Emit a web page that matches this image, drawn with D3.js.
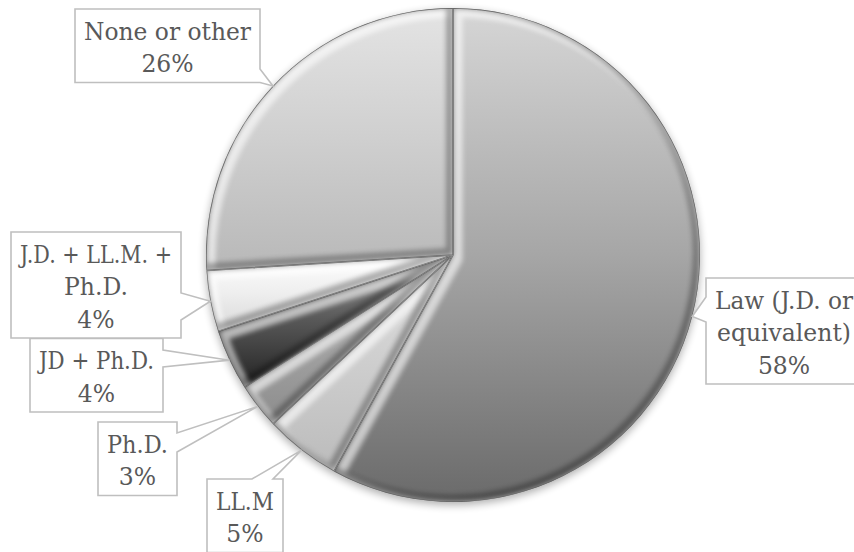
<!DOCTYPE html>
<html>
<head>
<meta charset="utf-8">
<script src="https://cdn.jsdelivr.net/npm/d3@7/dist/d3.min.js"></script>
<style>
  html, body { margin: 0; padding: 0; background: #ffffff; }
  svg { display: block; }
</style>
</head>
<body>
<svg id="chart" width="854" height="552"></svg>
<script>
// Highest degree held — share of respondents
const categories = ["Law (J.D. or equivalent)", "LL.M", "Ph.D.", "JD + Ph.D.", "J.D. + LL.M. + Ph.D.", "None or other"];
const shares = [58, 5, 3, 4, 4, 26];
const labelLines = [
  ["Law (J.D. or", "equivalent)"],
  ["LL.M"],
  ["Ph.D."],
  ["JD + Ph.D."],
  ["J.D. + LL.M. +", "Ph.D."],
  ["None or other"]
];

// Fill gradient (top, middle, bottom) for each slice
const sliceShades = [
  ["#d6d6d6", "#a6a6a6", "#6a6a6a"],
  ["#e0e0e0", "#cecece", "#bbbbbb"],
  ["#bababa", "#a4a4a4", "#8c8c8c"],
  ["#9a9a9a", "#575757", "#222222"],
  ["#ffffff", "#eeeeee", "#d9d9d9"],
  ["#e4e4e4", "#cfcfcf", "#b8b8b8"]
];

// Callout boxes: left/right edge, top edge, side the pointer leaves from, pointer base
const callouts = [
  { x0: 706, x1: 862, y0: 278,   side: "left",  a: 297, b: 322 },
  { x0: 207, x1: 283, y0: 479,   side: "top",   a: 252, b: 273 },
  { x0: 98,  x1: 177, y0: 422,   side: "right", a: 433, b: 452 },
  { x0: 30,  x1: 163, y0: 338.5, side: "right", a: 350, b: 367 },
  { x0: 11,  x1: 181, y0: 232,   side: "right", a: 293, b: 320 },
  { x0: 75,  x1: 260, y0: 9,     side: "right", a: 69,  b: 82.5 }
];

const cx = 453, cy = 255, R = 247;
const firstBaseline = 30.5, lineStep = 32.5, bottomPad = 10.5;

const svg = d3.select("#chart");
const defs = svg.append("defs");

// soft blur used for the bevel bands and the drop shadow
defs.append("filter").attr("id", "soft").attr("x", "-20%").attr("y", "-20%").attr("width", "140%").attr("height", "140%")
  .append("feGaussianBlur").attr("stdDeviation", 2.6);
defs.append("filter").attr("id", "shadowBlur").attr("x", "-20%").attr("y", "-20%").attr("width", "140%").attr("height", "140%")
  .append("feGaussianBlur").attr("stdDeviation", 4);

const pie = d3.pie().sort(null).value(d => d);
const arcs = pie(shares);
const arc = d3.arc().innerRadius(0).outerRadius(R);
const rimArc = d3.arc().innerRadius(R).outerRadius(R);

arcs.forEach((d, i) => {
  const g = defs.append("linearGradient").attr("id", "fill" + i)
    .attr("x1", 0).attr("y1", 0).attr("x2", 0).attr("y2", 1);
  sliceShades[i].forEach((c, k) => g.append("stop").attr("offset", k / 2).attr("stop-color", c));
  defs.append("clipPath").attr("id", "clip" + i)
    .append("path").attr("transform", `translate(${cx},${cy})`).attr("d", arc(d));
});

// drop shadow under the pie
svg.append("circle")
  .attr("cx", cx).attr("cy", cy + 3).attr("r", R)
  .attr("fill", "#000").attr("opacity", 0.32)
  .attr("filter", "url(#shadowBlur)");

const pieG = svg.append("g");

arcs.forEach((d, i) => {
  const slice = pieG.append("g").attr("clip-path", `url(#clip${i})`);
  const body = slice.append("g").attr("transform", `translate(${cx},${cy})`);
  body.append("path").attr("d", arc(d)).attr("fill", `url(#fill${i})`);
  // bevel: light band on edges facing up-left, dark band on edges facing down-right
  body.append("path").attr("d", arc(d))
    .attr("transform", "translate(4,4)")
    .attr("fill", "none").attr("stroke", "#ffffff").attr("stroke-width", 11)
    .attr("stroke-linejoin", "round").attr("opacity", 0.6).attr("filter", "url(#soft)");
  body.append("path").attr("d", arc(d))
    .attr("transform", "translate(-3,-3)")
    .attr("fill", "none").attr("stroke", "#000000").attr("stroke-width", 8)
    .attr("stroke-linejoin", "round").attr("opacity", 0.3).attr("filter", "url(#soft)");
  // crisp outline
  body.append("path").attr("d", arc(d))
    .attr("fill", "none").attr("stroke", "#606060").attr("stroke-width", 1.4)
    .attr("stroke-linejoin", "round").attr("opacity", 0.9);
});

// callout labels
const labelG = svg.append("g");
arcs.forEach((d, i) => {
  const c = callouts[i];
  const lines = labelLines[i].concat([`${shares[i]}%`]);
  const y1 = c.y0 + firstBaseline + lineStep * (lines.length - 1) + bottomPad;
  const [tx, ty] = rimArc.centroid(d);
  const tip = [cx + tx, cy + ty];

  const pts = [[c.x0, c.y0]];
  if (c.side === "top") pts.push([c.a, c.y0], tip, [c.b, c.y0]);
  pts.push([c.x1, c.y0]);
  if (c.side === "right") pts.push([c.x1, c.a], tip, [c.x1, c.b]);
  pts.push([c.x1, y1], [c.x0, y1]);
  if (c.side === "left") pts.push([c.x0, c.b], tip, [c.x0, c.a]);

  const g = labelG.append("g");
  g.append("path")
    .attr("d", d3.line()(pts) + "Z")
    .attr("fill", "#ffffff").attr("stroke", "#bfbfbf").attr("stroke-width", 1.6)
    .attr("stroke-linejoin", "miter");
  const tcx = (c.x0 + c.x1) / 2;
  const maxWidth = (c.x1 - c.x0) - 18;
  g.selectAll("text").data(lines).join("text")
    .attr("x", tcx)
    .attr("y", (t, k) => c.y0 + firstBaseline + lineStep * k)
    .attr("text-anchor", "middle")
    .attr("font-family", "'DejaVu Serif', serif")
    .attr("font-size", 23.5)
    .attr("fill", "#595959")
    .text(t => t)
    .each(function () {
      // keep long lines inside their box
      const w = this.getComputedTextLength();
      if (w > maxWidth) {
        d3.select(this).attr("textLength", maxWidth).attr("lengthAdjust", "spacingAndGlyphs");
      }
    });
});
</script>
</body>
</html>
